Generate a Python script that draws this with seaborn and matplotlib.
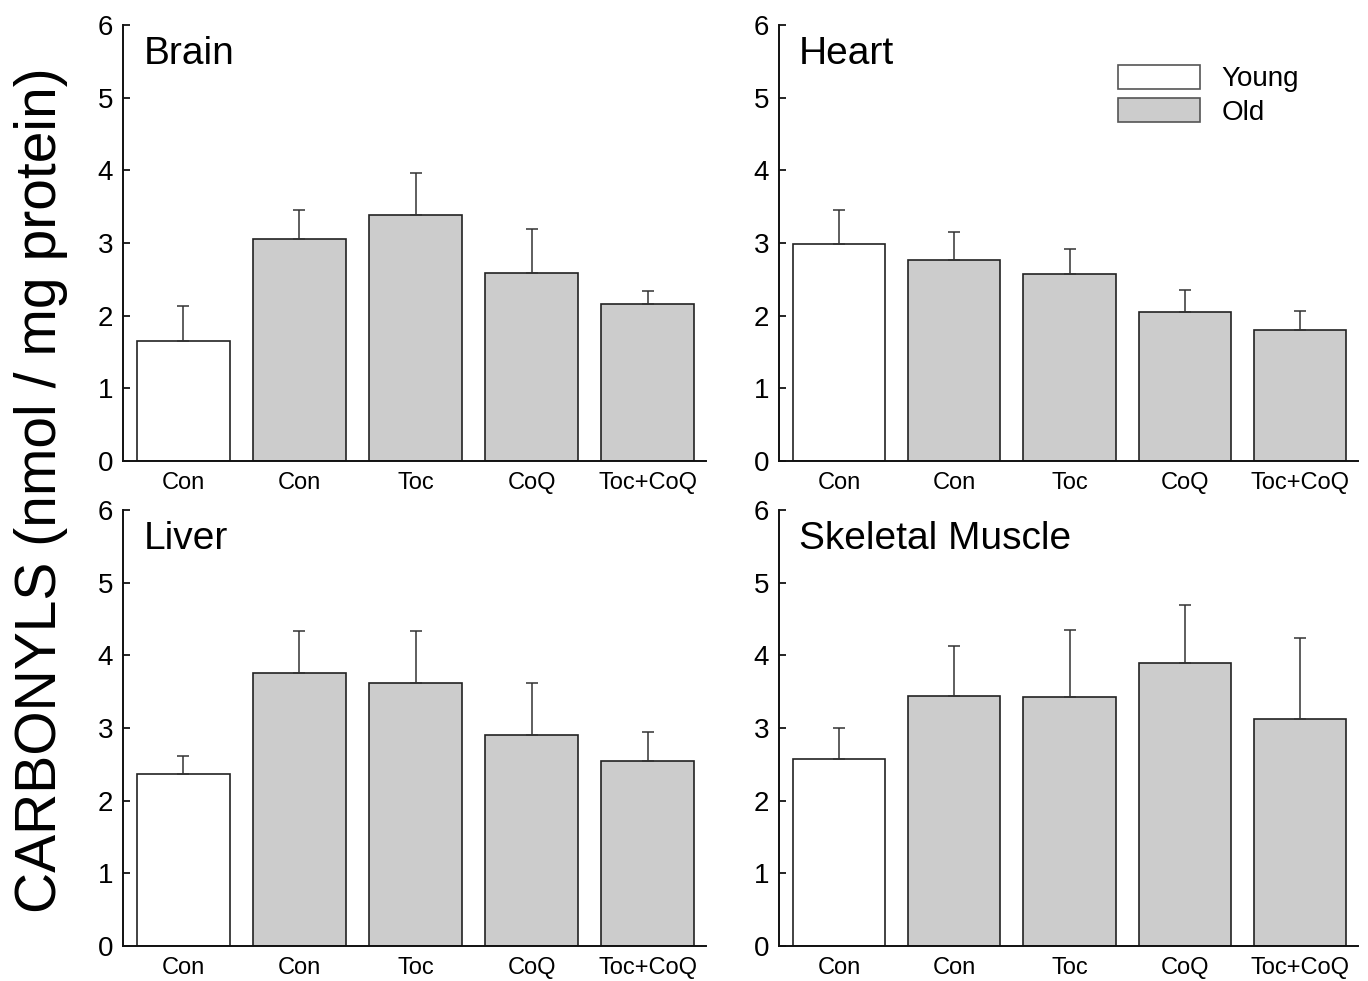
import numpy as np
import pandas as pd
import matplotlib
matplotlib.use("Agg")
import matplotlib.pyplot as plt
from matplotlib.patches import Patch
import seaborn as sns

# === Data ===
tick_labels = ["Con", "Con", "Toc", "CoQ", "Toc+CoQ"]
ages = ["Young", "Old", "Old", "Old", "Old"]

brain_mean = [1.65, 3.05, 3.38, 2.59, 2.16]
brain_sem = [0.49, 0.41, 0.58, 0.61, 0.18]

heart_mean = [2.99, 2.77, 2.57, 2.05, 1.81]
heart_sem = [0.46, 0.38, 0.35, 0.31, 0.25]

liver_mean = [2.36, 3.75, 3.62, 2.90, 2.54]
liver_sem = [0.26, 0.59, 0.71, 0.72, 0.40]

muscle_mean = [2.57, 3.44, 3.42, 3.89, 3.13]
muscle_sem = [0.43, 0.69, 0.93, 0.80, 1.11]

panels = [
    ("Brain", brain_mean, brain_sem),
    ("Heart", heart_mean, heart_sem),
    ("Liver", liver_mean, liver_sem),
    ("Skeletal Muscle", muscle_mean, muscle_sem),
]

palette = {"Young": "white", "Old": "#cccccc"}

# === Style ===
sns.set_style("ticks")
plt.rcParams["font.family"] = ["Liberation Sans", "DejaVu Sans"]
plt.rcParams["text.color"] = "black"
plt.rcParams["xtick.color"] = "black"
plt.rcParams["ytick.color"] = "black"

fig = plt.figure(figsize=(13.68, 9.81), dpi=100)
axes_pos = [
    [0.0899, 0.530, 0.426, 0.4445],
    [0.5694, 0.530, 0.4232, 0.4445],
    [0.0899, 0.0357, 0.426, 0.4445],
    [0.5694, 0.0357, 0.4232, 0.4445],
]

for pos, (name, means, sems) in zip(axes_pos, panels):
    ax = fig.add_axes(pos)
    df = pd.DataFrame({"pos": np.arange(len(means)), "value": means, "age": ages})
    sns.barplot(data=df, x="pos", y="value", hue="age", palette=palette,
                dodge=False, width=0.8, edgecolor="#222222", linewidth=1.2,
                errorbar=None, legend=False, ax=ax)
    ax.errorbar(df["pos"], df["value"], yerr=[np.zeros(len(sems)), sems],
                fmt="none", ecolor="#333333", elinewidth=1.1, capsize=4, capthick=1.1)
    ax.set_xlim(-0.52, 4.5)
    ax.set_ylim(0, 6)
    ax.set_yticks(range(0, 7))
    ax.set_xticks(range(5))
    ax.set_xticklabels(tick_labels)
    ax.set_xlabel("")
    ax.set_ylabel("")
    ax.tick_params(axis="y", direction="in", length=5, width=1.2, pad=7, labelsize=20)
    ax.tick_params(axis="x", length=0, pad=8, labelsize=17)
    for side in ["top", "right"]:
        ax.spines[side].set_visible(False)
    for side in ["left", "bottom"]:
        ax.spines[side].set_color("#111111")
        ax.spines[side].set_linewidth(1.4)
    ax.text(0.035, 0.975, name, transform=ax.transAxes, ha="left", va="top",
            fontsize=28)

    if name == "Heart":
        handles = [Patch(facecolor="white", edgecolor="#555555", linewidth=1.2, label="Young"),
                   Patch(facecolor="#cccccc", edgecolor="#555555", linewidth=1.2, label="Old")]
        ax.legend(handles=handles, loc="upper left", bbox_to_anchor=(0.817, 0.934),
                  bbox_transform=fig.transFigure, frameon=False, fontsize=20,
                  handlelength=2.95, handleheight=0.94, labelspacing=0.22,
                  handletextpad=0.8, borderpad=0, borderaxespad=0)

fig.text(0.03, 0.5, "CARBONYLS (nmol / mg protein)", rotation=90,
         ha="center", va="center", fontsize=41)

fig.savefig("out.png", dpi=100)
plt.close(fig)
